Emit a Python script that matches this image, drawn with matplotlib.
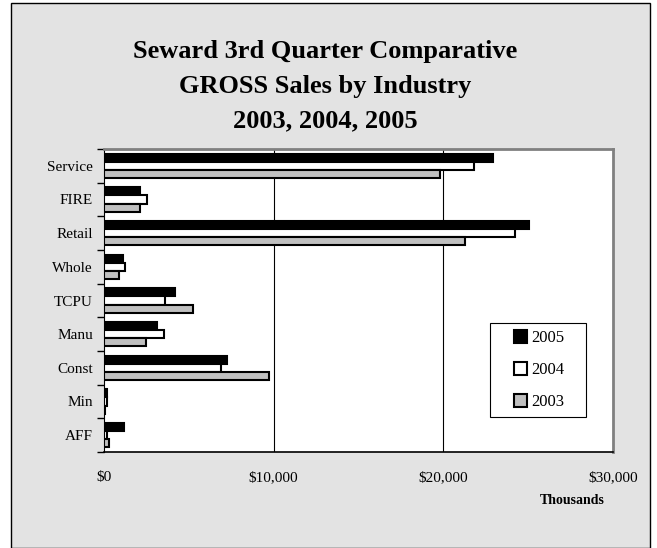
import matplotlib
matplotlib.use("Agg")
import matplotlib.pyplot as plt
import numpy as np
from matplotlib.patches import Rectangle

categories = ["AFF", "Min", "Const", "Manu", "TCPU", "Whole", "Retail", "FIRE", "Service"]
sales_2005 = [1150, 200, 7270, 3100, 4170, 1140, 25050, 2100, 22900]
sales_2004 = [200, 150, 6900, 3560, 3600, 1240, 24200, 2550, 21800]
sales_2003 = [300, 80, 9700, 2500, 5250, 900, 21300, 2100, 19800]
years = ["2005", "2004", "2003"]
xticks = [0, 10000, 20000, 30000]
xtick_labels = ["$0", "$10,000", "$20,000", "$30,000"]

plt.rcParams['font.family'] = ['Liberation Serif', 'DejaVu Serif']

W, H = 657, 548
fig = plt.figure(figsize=(W/100, H/100), dpi=100)
fig.patch.set_facecolor('white')
# chart area frame
fig.patches.append(Rectangle((11/W, 0), (650-11)/W, (H-3)/H, transform=fig.transFigure,
                             facecolor='#e3e3e3', edgecolor='black', linewidth=1.0, zorder=-5))

ax = fig.add_axes([104/W, 1-452/H, (613-104)/W, (452-149)/H])
ax.set_facecolor('white')

y = np.arange(len(categories))
h = 0.24
series = [(sales_2005, 'black'), (sales_2004, 'white'), (sales_2003, '#c0c0c0')]
for i, (vals, col) in enumerate(series):
    ax.barh(y + h * (1 - i), vals, height=h, color=col, edgecolor='black',
            linewidth=1.5, label=years[i], zorder=3)

ax.set_xlim(0, 30000)
ax.set_ylim(-0.5, len(categories) - 0.5)
ax.set_xticks(xticks)
ax.set_xticklabels(xtick_labels, fontsize=11)
ax.set_yticks(y)
ax.set_yticklabels(categories, fontsize=11)
ax.tick_params(axis='y', length=0, pad=8)
ax.tick_params(axis='x', length=0, pad=14)
# boundary ticks
ax.set_yticks(np.arange(-0.5, len(categories), 1), minor=True)
ax.tick_params(axis='y', which='minor', length=5, direction='out', width=1)
ax.set_xticks(xticks, minor=True)
ax.tick_params(axis='x', which='minor', length=5, direction='out', width=1)

for xv in xticks[1:3]:
    ax.axvline(xv, color='black', linewidth=0.8, zorder=1)

ax.spines['left'].set_color('black')
ax.spines['bottom'].set_color('black')
ax.spines['bottom'].set_linewidth(1.2)
ax.spines['top'].set_color('#808080')
ax.spines['top'].set_linewidth(2)
ax.spines['right'].set_color('#808080')
ax.spines['right'].set_linewidth(2)

fig.text(325/W, 1-86/H, "Seward 3rd Quarter Comparative\nGROSS Sales by Industry\n2003, 2004, 2005",
         ha='center', va='center', fontsize=19, fontweight='bold', linespacing=1.65)
fig.text(572/W, 1-500/H, "Thousands", ha='center', va='center', fontsize=10, fontweight='bold')

# legend box
fig.patches.append(Rectangle((490/W, 1-417/H), 96/W, 94/H, transform=fig.transFigure,
                             facecolor='white', edgecolor='black', linewidth=0.8, zorder=5))
leg = fig.legend(loc='center', bbox_to_anchor=(539/W, 1-370/H), fontsize=12,
                 frameon=False, handlelength=0.8, handleheight=0.8, handletextpad=0.2,
                 labelspacing=0.95, borderpad=0, borderaxespad=0)
leg.set_zorder(6)

fig.savefig("out.png", dpi=100, facecolor=fig.get_facecolor())
